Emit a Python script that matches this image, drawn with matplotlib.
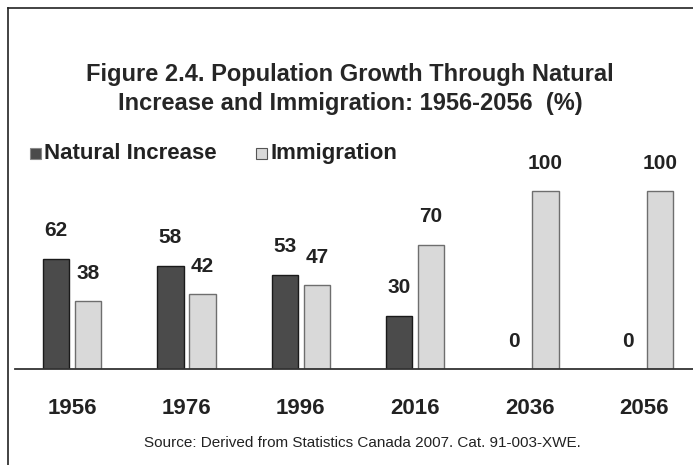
# Population growth: natural increase vs immigration, 1956-2056
import numpy as np
import matplotlib.pyplot as plt
from matplotlib.patches import Rectangle
from matplotlib.lines import Line2D

years = ["1956", "1976", "1996", "2016", "2036", "2056"]
natural_increase = [62, 58, 53, 30, 0, 0]
immigration = [38, 42, 47, 70, 100, 100]

plt.rcParams['font.family'] = ['Liberation Sans', 'DejaVu Sans']

DARK = '#4b4b4b'
LIGHT = '#d9d9d9'

fig = plt.figure(figsize=(6.93, 4.65), dpi=100)
fig.patch.set_facecolor('white')

# outer frame (left and top edges only)
fig.add_artist(Line2D([8/693, 8/693], [0, 1 - 8/465], color='#222222', lw=1.2))
fig.add_artist(Line2D([8/693, 1], [1 - 8/465, 1 - 8/465], color='#222222', lw=1.2))

ax = fig.add_axes([15/693, 96/465, 1 - 15/693, 240/465])
x = np.arange(len(years))
w = 0.23
off = 0.14
ax.bar(x - off, natural_increase, w, color=DARK, edgecolor='#1a1a1a', lw=1.0)
ax.bar(x + off, immigration, w, color=LIGHT, edgecolor='#6e6e6e', lw=1.0)

for xi, v in zip(x - off, natural_increase):
    ax.annotate(str(v), (xi, v), xytext=(0, 28), textcoords='offset pixels',
                ha='center', va='center', fontsize=15, fontweight='bold', color='#222222')
for xi, v in zip(x + off, immigration):
    ax.annotate(str(v), (xi, v), xytext=(0, 28), textcoords='offset pixels',
                ha='center', va='center', fontsize=15, fontweight='bold', color='#222222')

ax.set_xlim(-0.5, 5.43)
ax.set_ylim(0, 135)
for s in ['top', 'right', 'left']:
    ax.spines[s].set_visible(False)
ax.spines['bottom'].set_color('#333333')
ax.spines['bottom'].set_linewidth(1.3)
ax.set_yticks([])
ax.set_xticks(x)
ax.set_xticklabels(years, fontsize=16, fontweight='bold', color='#222222')
ax.tick_params(axis='x', length=0, pad=21)

fig.text(350/693, 1 - 89/465, "Figure 2.4. Population Growth Through Natural\nIncrease and Immigration: 1956-2056  (%)",
         ha='center', va='center', fontsize=17, fontweight='bold', color='#262626', linespacing=1.3)

# legend
fig.add_artist(Rectangle((30/693, 1 - 159/465), 11/693, 11/465, transform=fig.transFigure,
                         facecolor=DARK, edgecolor='#888888', lw=0.8))
fig.text(44/693, 1 - 153/465, "Natural Increase", ha='left', va='center',
         fontsize=16, fontweight='bold', color='#222222')
fig.add_artist(Rectangle((256/693, 1 - 159/465), 11/693, 11/465, transform=fig.transFigure,
                         facecolor=LIGHT, edgecolor='#555555', lw=0.8))
fig.text(270/693, 1 - 153/465, "Immigration", ha='left', va='center',
         fontsize=16, fontweight='bold', color='#222222')

fig.text(362/693, 1 - 443/465, "Source: Derived from Statistics Canada 2007. Cat. 91-003-XWE.",
         ha='center', va='center', fontsize=11, color='#222222')

fig.savefig("out.png", dpi=100)
